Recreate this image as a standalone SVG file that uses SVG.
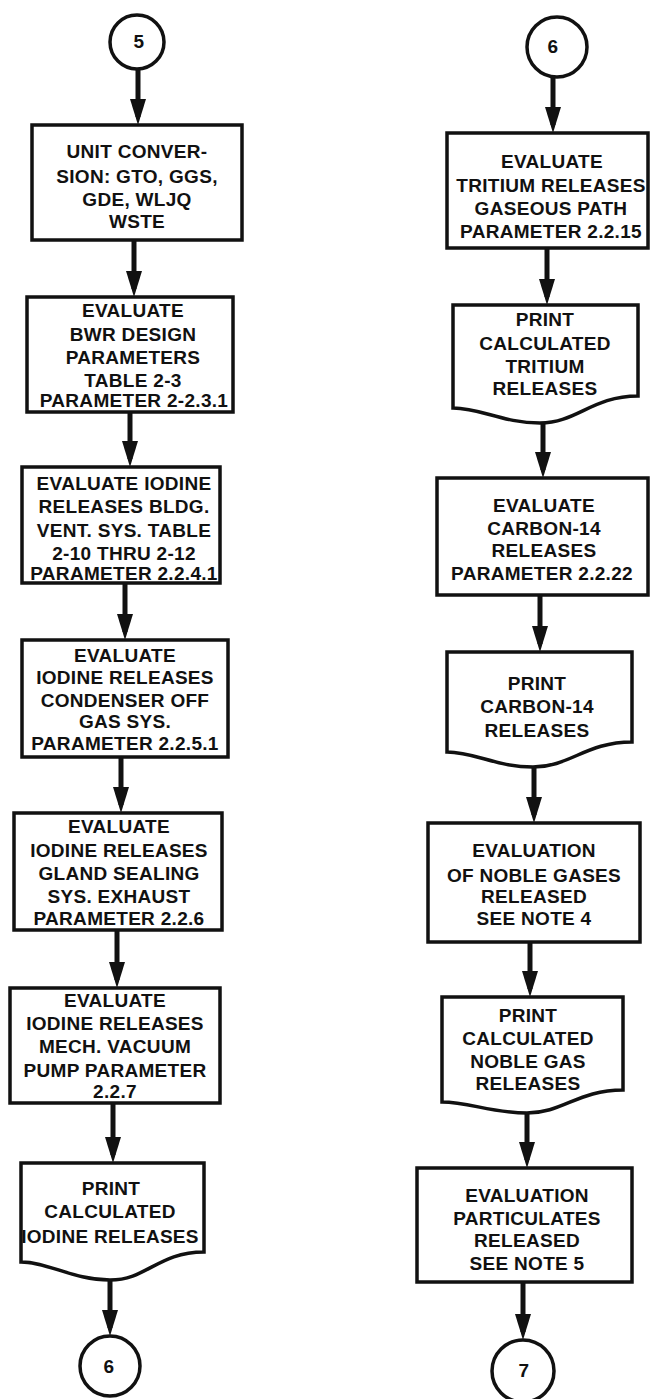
<svg xmlns="http://www.w3.org/2000/svg" width="650" height="1399" viewBox="0 0 650 1399">
<style>
.bg{fill:#fff}
.box{fill:#fff;stroke:#111;stroke-width:3.5;stroke-linejoin:miter}
.t{font-family:"Liberation Sans",Arial,Helvetica,sans-serif;font-weight:bold;font-size:19px;letter-spacing:0.3px;text-anchor:middle;fill:#111}
.cn{stroke:#111;stroke-width:5;fill:none;marker-end:url(#ah)}
</style>
<defs>
<marker id="ah" viewBox="0 0 26 16" refX="18" refY="8" markerWidth="26" markerHeight="16" orient="auto" markerUnits="userSpaceOnUse">
<path d="M0,0 L26,8 L0,16 Z" fill="#111"/>
</marker>
</defs>
<rect class="bg" x="0" y="0" width="650" height="1399"/>

<g id="connectors">
<path class="cn" d="M138,69 V117"/>
<path class="cn" d="M134,241 V289"/>
<path class="cn" d="M130,413 V459"/>
<path class="cn" d="M125,584 V632"/>
<path class="cn" d="M121,758 V805"/>
<path class="cn" d="M117,931 V980"/>
<path class="cn" d="M113,1104 V1155"/>
<path class="cn" d="M110,1280 V1328"/>
<path class="cn" d="M553,77 V125"/>
<path class="cn" d="M547,249 V297"/>
<path class="cn" d="M543,423 V470"/>
<path class="cn" d="M540,596 V644"/>
<path class="cn" d="M534,767 V815"/>
<path class="cn" d="M530,943 V989"/>
<path class="cn" d="M527,1113 V1160"/>
<path class="cn" d="M523,1283 V1332"/>
</g>

<g id="c5">
<circle class="box" cx="137" cy="42" r="27"/>
<text class="t" x="139" y="48">5</text>
</g>

<g id="b1">
<rect class="box" x="32" y="125" width="210" height="115"/>
<text class="t" x="137" y="158">UNIT CONVER-</text>
<text class="t" x="137" y="183">SION: GTO, GGS,</text>
<text class="t" x="137" y="206">GDE, WLJQ</text>
<text class="t" x="137" y="228">WSTE</text>
</g>

<g id="b2">
<rect class="box" x="27" y="297" width="206" height="115"/>
<text class="t" x="133" y="317">EVALUATE</text>
<text class="t" x="133" y="341">BWR DESIGN</text>
<text class="t" x="133" y="364">PARAMETERS</text>
<text class="t" x="133" y="387">TABLE 2-3</text>
<text class="t" x="134" y="407">PARAMETER 2-2.3.1</text>
</g>

<g id="b3">
<rect class="box" x="22" y="467" width="198" height="116"/>
<text class="t" x="124" y="490">EVALUATE IODINE</text>
<text class="t" x="124" y="513">RELEASES BLDG.</text>
<text class="t" x="124" y="537">VENT. SYS. TABLE</text>
<text class="t" x="124" y="560">2-10 THRU 2-12</text>
<text class="t" x="124" y="580">PARAMETER 2.2.4.1</text>
</g>

<g id="b4">
<rect class="box" x="22" y="640" width="206" height="117"/>
<text class="t" x="125" y="662">EVALUATE</text>
<text class="t" x="125" y="684">IODINE RELEASES</text>
<text class="t" x="125" y="707">CONDENSER OFF</text>
<text class="t" x="125" y="728">GAS SYS.</text>
<text class="t" x="125" y="750">PARAMETER 2.2.5.1</text>
</g>

<g id="b5">
<rect class="box" x="14" y="813" width="208" height="117"/>
<text class="t" x="119" y="833">EVALUATE</text>
<text class="t" x="119" y="857">IODINE RELEASES</text>
<text class="t" x="119" y="880">GLAND SEALING</text>
<text class="t" x="119" y="903">SYS. EXHAUST</text>
<text class="t" x="119" y="925">PARAMETER 2.2.6</text>
</g>

<g id="b6">
<rect class="box" x="10" y="988" width="210" height="115"/>
<text class="t" x="115" y="1007">EVALUATE</text>
<text class="t" x="115" y="1030">IODINE RELEASES</text>
<text class="t" x="115" y="1053">MECH. VACUUM</text>
<text class="t" x="115" y="1077">PUMP PARAMETER</text>
<text class="t" x="115" y="1098">2.2.7</text>
</g>

<g id="d1">
<path class="box" d="M21,1163 H204 V1252 C158,1252 147,1280 110,1280 C73,1280 48,1262 21,1262 Z"/>
<text class="t" x="111" y="1195">PRINT</text>
<text class="t" x="110" y="1218">CALCULATED</text>
<text class="t" x="110" y="1243">IODINE RELEASES</text>
</g>

<g id="c6a">
<circle class="box" cx="110" cy="1366" r="30"/>
<text class="t" x="109" y="1373">6</text>
</g>

<g id="c6b">
<circle class="box" cx="557" cy="47" r="30"/>
<text class="t" x="553" y="53">6</text>
</g>

<g id="r1">
<rect class="box" x="447" y="133" width="201" height="115"/>
<text class="t" x="552" y="168">EVALUATE</text>
<text class="t" x="551" y="192">TRITIUM RELEASES</text>
<text class="t" x="551" y="215">GASEOUS PATH</text>
<text class="t" x="551" y="238">PARAMETER 2.2.15</text>
</g>

<g id="r2">
<path class="box" d="M453,305 H638 V396 C592,396 577,423 540,423 C503,423 481,408 453,408 Z"/>
<text class="t" x="545" y="326">PRINT</text>
<text class="t" x="545" y="350">CALCULATED</text>
<text class="t" x="545" y="373">TRITIUM</text>
<text class="t" x="545" y="395">RELEASES</text>
</g>

<g id="r3">
<rect class="box" x="437" y="478" width="211" height="117"/>
<text class="t" x="544" y="512">EVALUATE</text>
<text class="t" x="544" y="535">CARBON-14</text>
<text class="t" x="544" y="557">RELEASES</text>
<text class="t" x="542" y="580">PARAMETER 2.2.22</text>
</g>

<g id="r4">
<path class="box" d="M447,652 H632 V742 C586,742 570,767 533,767 C496,767 475,752 447,752 Z"/>
<text class="t" x="537" y="690">PRINT</text>
<text class="t" x="537" y="713">CARBON-14</text>
<text class="t" x="537" y="737">RELEASES</text>
</g>

<g id="r5">
<rect class="box" x="428" y="823" width="212" height="119"/>
<text class="t" x="534" y="857">EVALUATION</text>
<text class="t" x="534" y="882">OF NOBLE GASES</text>
<text class="t" x="534" y="903">RELEASED</text>
<text class="t" x="534" y="925">SEE NOTE 4</text>
</g>

<g id="r6">
<path class="box" d="M442,997 H623 V1090 C578,1090 563,1113 527,1113 C491,1113 469,1102 442,1102 Z"/>
<text class="t" x="528" y="1022">PRINT</text>
<text class="t" x="528" y="1045">CALCULATED</text>
<text class="t" x="528" y="1068">NOBLE GAS</text>
<text class="t" x="528" y="1090">RELEASES</text>
</g>

<g id="r7">
<rect class="box" x="417" y="1168" width="215" height="114"/>
<text class="t" x="527" y="1202">EVALUATION</text>
<text class="t" x="527" y="1225">PARTICULATES</text>
<text class="t" x="527" y="1247">RELEASED</text>
<text class="t" x="527" y="1270">SEE NOTE 5</text>
</g>

<g id="c7">
<circle class="box" cx="523" cy="1371" r="31"/>
<text class="t" x="524" y="1377">7</text>
</g>
</svg>
